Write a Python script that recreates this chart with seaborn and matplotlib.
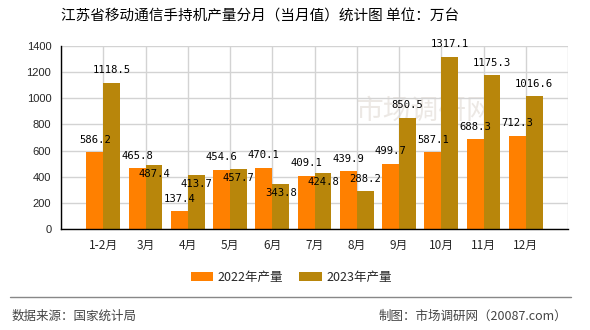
import matplotlib
matplotlib.use("Agg")
import matplotlib.pyplot as plt
from matplotlib.lines import Line2D
from matplotlib.patches import Patch
import pandas as pd
import seaborn as sns

# ---- data ----
months = ["1-2月", "3月", "4月", "5月", "6月", "7月", "8月", "9月", "10月", "11月", "12月"]
output_2022 = [586.2, 465.8, 137.4, 454.6, 470.1, 409.1, 439.9, 499.7, 587.1, 688.3, 712.3]
output_2023 = [1118.5, 487.4, 413.7, 457.7, 343.8, 424.8, 288.2, 850.5, 1317.1, 1175.3, 1016.6]
series = ["2022年产量", "2023年产量"]
y_ticks = [0, 200, 400, 600, 800, 1000, 1200, 1400]

title = "江苏省移动通信手持机产量分月（当月值）统计图 单位：万台"
source_text = "数据来源：国家统计局"
credit_text = "制图：市场调研网（20087.com）"
watermark = "市场调研网"

colors = ["#FF8000", "#B8860B"]
# months whose 2023 label sits just inside the bar top to avoid crowding
inside_2023 = {"3月", "4月", "5月", "6月", "7月"}

df = pd.DataFrame({
    "月份": months * 2,
    "产量": output_2022 + output_2023,
    "系列": [series[0]] * len(months) + [series[1]] * len(months),
})

sns.set_style("white")
plt.rcParams["font.family"] = ["Noto Sans CJK SC", "DejaVu Sans"]

W, H = 590, 330
fig = plt.figure(figsize=(W / 100, H / 100), dpi=100)
ax = fig.add_axes([61 / W, 101 / H, 507 / W, 183 / H])

sns.barplot(data=df, x="月份", y="产量", hue="系列", order=months, hue_order=series,
            palette=colors, saturation=1, width=0.8, dodge=True, legend=False,
            linewidth=0, ax=ax)

ax.set_xlim(-1, len(months))
ax.set_ylim(0, 1400)
ax.set_yticks(y_ticks)
ax.set_yticklabels([str(v) for v in y_ticks], family="Liberation Sans", fontsize=8)
ax.set_xticks(range(-1, len(months) + 1))
ax.set_xticklabels([""] + months + [""], fontsize=8.5)
ax.set_xlabel("")
ax.set_ylabel("")

ax.grid(True, color="#d3d3d3", linewidth=1)
ax.set_axisbelow(True)
for side in ("top", "right"):
    ax.spines[side].set_visible(False)
for side in ("left", "bottom"):
    ax.spines[side].set_color("black")
    ax.spines[side].set_linewidth(1)
ax.tick_params(axis="y", direction="out", length=5, width=1, color="black", pad=2)
ax.tick_params(axis="x", direction="out", length=4, width=1, color="black", pad=3)

# faint watermark behind the bars
ax.text((425 - 61) / 507, (229 - 111) / 183, watermark, transform=ax.transAxes,
        fontsize=20, color="#ece8e4", ha="center", va="center", zorder=0.5)

# value labels from the bars themselves
for k, container in enumerate(ax.containers):
    for month, bar in zip(months, container):
        h = bar.get_height()
        xc = bar.get_x() + bar.get_width() / 2
        dy = -6.2 if (k == 1 and month in inside_2023) else 9.0
        ax.annotate(f"{h:.1f}", (xc, h), xytext=(0, dy), textcoords="offset points",
                    ha="center", va="center", fontsize=7.6, family="DejaVu Sans Mono",
                    color="black")

fig.text(260 / W, 1 - 17 / H, title, ha="center", va="center", fontsize=10.5, color="black")

handles = [Patch(facecolor=c, edgecolor="none") for c in colors]
fig.legend(handles, series, loc="center", bbox_to_anchor=(291 / W, 1 - 277 / H),
           ncol=2, frameon=False, fontsize=9, handlelength=1.8, handleheight=0.75,
           handletextpad=0.35, columnspacing=1.3)

fig.add_artist(Line2D([10 / W, 571 / W], [1 - 297 / H, 1 - 297 / H],
                      transform=fig.transFigure, color="#888888", linewidth=1))
fig.text(12 / W, 1 - 316 / H, source_text, ha="left", va="center", fontsize=9, color="#444444")
fig.text(567 / W, 1 - 316 / H, credit_text, ha="right", va="center", fontsize=9, color="#444444")

fig.savefig("out.png", dpi=100)
